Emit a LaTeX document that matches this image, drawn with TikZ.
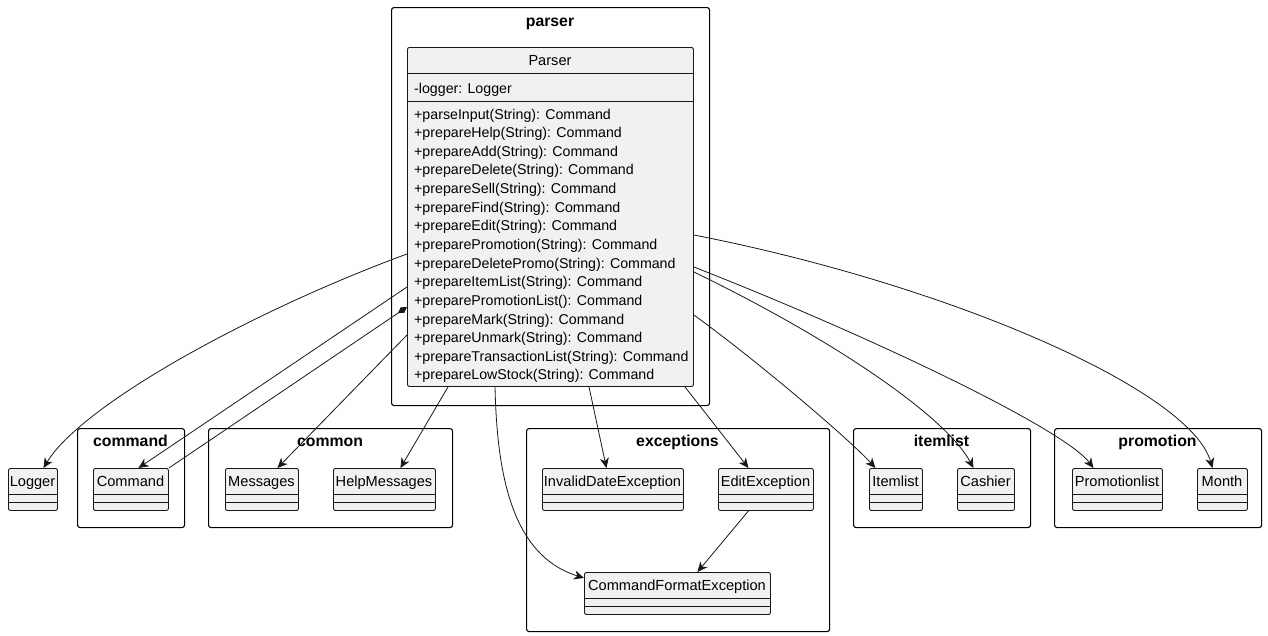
\documentclass[tikz,border=0pt]{standalone}
\usepackage{fontspec}
\setmainfont{Liberation Sans}
\usetikzlibrary{arrows.meta,calc}
\definecolor{clsfill}{HTML}{F1F1F1}
\definecolor{clsdraw}{HTML}{181818}
\tikzset{
  pkg/.style={draw=black, line width=1.1pt, rounded corners=2.5pt, fill=white, inner sep=0pt},
  pkgtitle/.style={font=\fontsize{15.8}{18}\selectfont\bfseries, inner sep=0pt, anchor=base},
  cls/.style={draw=clsdraw, fill=clsfill, line width=0.9pt, rounded corners=2pt, inner sep=0pt},
  clsname/.style={font=\fontsize{14.6}{17}\selectfont, inner sep=0pt, anchor=base},
  member/.style={font=\fontsize{14.2}{17}\selectfont, inner sep=0pt, anchor=base west},
  sep/.style={draw=clsdraw, line width=0.9pt},
  dep/.style={draw=clsdraw, line width=0.8pt, -{Stealth[length=10pt,width=9pt,inset=3pt]}},
  comp/.style={draw=clsdraw, line width=0.8pt, {Diamond[length=11pt,width=6.5pt,fill=clsdraw]}-},
}
\newcommand{\umlbox}[5]{%
  \node[cls, minimum width={#3-#2}, minimum height=42, anchor=north west] (#1) at (#2,#4) {};
  \node[clsname] (#1-n) at ({(#2+#3)/2},{#4+18.5}) {#5};
  \draw[sep] ([yshift=16pt]#1.south west) -- ([yshift=16pt]#1.south east);
  \draw[sep] ([yshift=8pt]#1.south west) -- ([yshift=8pt]#1.south east);
}
\begin{document}
\begin{tikzpicture}[x=1pt,y=-1pt]
\useasboundingbox[fill=white] (0,0) rectangle (1268,635);
% packages
\node[pkg, minimum width=318, minimum height=398, anchor=north west] (pparser) at (391,7) {};
\node[pkgtitle] (pparser-t) at (550,26) {parser};
\node[pkg, minimum width=107, minimum height=99, anchor=north west] (pcommand) at (77,428) {};
\node[pkgtitle] (pcommand-t) at (130.5,446.5) {command};
\node[pkg, minimum width=244, minimum height=99, anchor=north west] (pcommon) at (208,428) {};
\node[pkgtitle] (pcommon-t) at (330,446.5) {common};
\node[pkg, minimum width=303, minimum height=203, anchor=north west] (pexc) at (526,428) {};
\node[pkgtitle] (pexc-t) at (677.5,446.5) {exceptions};
\node[pkg, minimum width=177, minimum height=99, anchor=north west] (pitem) at (853,428) {};
\node[pkgtitle] (pitem-t) at (941.5,446.5) {itemlist};
\node[pkg, minimum width=207, minimum height=99, anchor=north west] (ppromo) at (1054,428) {};
\node[pkgtitle] (ppromo-t) at (1157.5,446.5) {promotion};
% Parser class
\node[cls, minimum width=286, minimum height=339, anchor=north west] (parser) at (407,47) {};
\node[clsname] (parser-n) at (550,65.7) {Parser};
\draw[sep] ([yshift=-26pt]parser.north west) -- ([yshift=-26pt]parser.north east);
\draw[sep] ([yshift=-54pt]parser.north west) -- ([yshift=-54pt]parser.north east);
\node[member] (attr) at (414,93.3) {-logger: Logger};
\foreach \t [count=\i from 0] in {+parseInput(String): Command,+prepareHelp(String): Command,+prepareAdd(String): Command,+prepareDelete(String): Command,+prepareSell(String): Command,+prepareFind(String): Command,+prepareEdit(String): Command,+preparePromotion(String): Command,+prepareDeletePromo(String): Command,+prepareItemList(String): Command,+preparePromotionList(): Command,+prepareMark(String): Command,+prepareUnmark(String): Command,+prepareTransactionList(String): Command,+prepareLowStock(String): Command}
  \node[member] (m\i) at (414,{119+18.64*\i}) {\t};
% other classes
\umlbox{logger}{8}{57}{468}{Logger}
\umlbox{command}{93}{168}{468}{Command}
\umlbox{messages}{225}{298}{468}{Messages}
\umlbox{helpmsg}{333}{435}{468}{HelpMessages}
\umlbox{invdate}{542}{683}{468}{InvalidDateException}
\umlbox{edit}{718}{813}{468}{EditException}
\umlbox{cfe}{584}{770}{572}{CommandFormatException}
\umlbox{itemlist}{869}{922}{468}{Itemlist}
\umlbox{cashier}{957}{1014}{468}{Cashier}
\umlbox{promolist}{1072}{1162}{468}{Promotionlist}
\umlbox{month}{1197}{1247}{468}{Month}
% connectors
\draw[dep] ([yshift=-207pt]parser.north west) .. controls (257,309) and (83,403) .. ([xshift=10.5pt]logger.north);
\draw[dep] ([yshift=-240pt]parser.north west) -- ([xshift=7.5pt]command.north);
\draw[comp] ([yshift=-260pt]parser.north west) -- (command.north east);
\draw[dep] ([yshift=-288pt]parser.north west) -- ([xshift=15.5pt]messages.north);
\draw[dep] ([xshift=41pt]parser.south west) -- ([xshift=16pt]helpmsg.north);
\draw[dep] ([xshift=88pt]parser.south west) .. controls (497,470) and (510,555) .. ([yshift=15.5pt]cfe.west);
\draw[dep] ([xshift=182pt]parser.south west) -- ([xshift=-6.5pt]invdate.north);
\draw[dep] ([xshift=278pt]parser.south west) -- ([xshift=-17.5pt]edit.north);
\draw[dep] ([xshift=-17.5pt]edit.south) -- ([xshift=20pt]cfe.north);
\draw[dep] ([yshift=-268pt]parser.north east) .. controls (760,363) and (850,440) .. ([xshift=-20.5pt]itemlist.north);
\draw[dep] ([yshift=-225pt]parser.north east) .. controls (830,338) and (945,415) .. ([xshift=-12.5pt]cashier.north);
\draw[dep] ([yshift=-220pt]parser.north east) .. controls (880,340) and (1065,430) .. ([xshift=-24pt]promolist.north);
\draw[dep] ([yshift=-188pt]parser.north east) .. controls (950,285) and (1190,390) .. ([xshift=-10pt]month.north);
\end{tikzpicture}
\end{document}
